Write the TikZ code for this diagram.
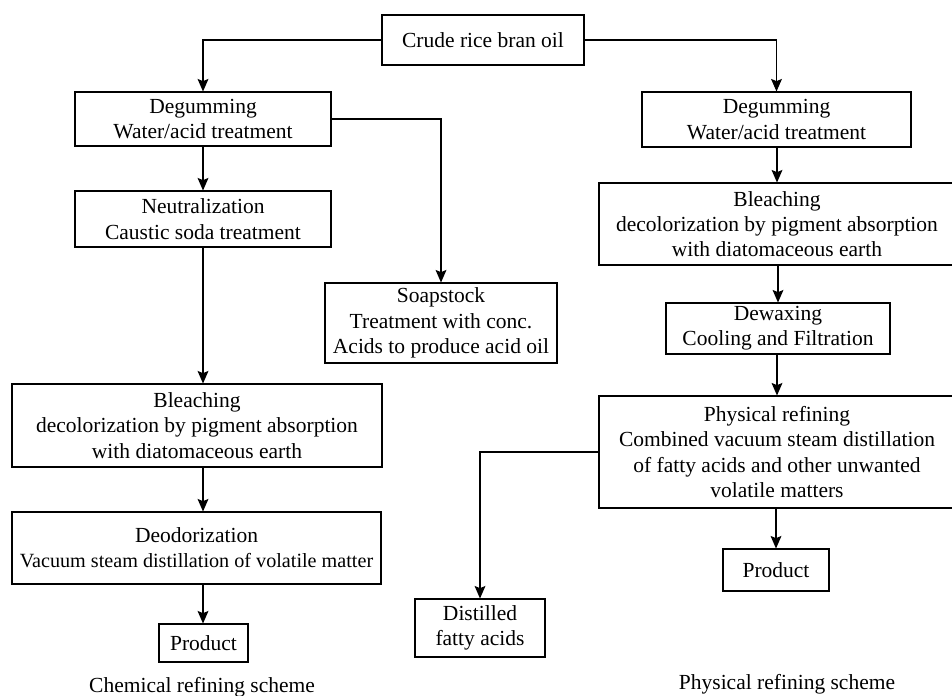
\documentclass[tikz,border=0pt]{standalone}
\usepackage{fontspec}
\setmainfont{Liberation Serif}
\usetikzlibrary{arrows.meta}

\begin{document}
\begin{tikzpicture}
[x=0.6pt, y=-0.6pt, font=\fontsize{12.9}{15.2}\selectfont, line width=0.65pt,
stage/.style={draw, align=center, inner sep=0pt},
>={Stealth[length=7.5pt, width=6.5pt, inset=1.3pt]}]

\clip (0,0) rectangle (952,695);

% chemical refining
\node[stage, minimum width=121.2pt, minimum height=30pt] (crude) at (483,40) {Crude rice bran oil};
\node[stage, minimum width=153.6pt, minimum height=32.4pt] (degL) at (203,119) {Degumming\\Water/acid treatment};
\node[stage, minimum width=153.6pt, minimum height=33.6pt] (neut) at (203,219) {Neutralization\\Caustic soda treatment};
\node[stage, minimum width=139.2pt, minimum height=48pt] (soap) at (441,323) {Soapstock\\Treatment with conc.\\Acids to produce acid oil};
\node[stage, minimum width=222pt, minimum height=49.8pt] (bleachL) at (197,425.5) {Bleaching\\decolorization by pigment absorption\\with diatomaceous earth};
\node[stage, minimum width=221.4pt, minimum height=43.2pt] (deod) at (196.5,548) {Deodorization\\{\fontsize{12.1}{15.2}\selectfont Vacuum steam distillation of volatile matter}};
\node[stage, minimum width=53.4pt, minimum height=22.8pt] (prodL) at (203.5,643) {Product};
\node (capL) at (202,687) {Chemical refining scheme};

% physical refining
\node[stage, minimum width=161.4pt, minimum height=33pt] (degR) at (776.5,119.5) {Degumming\\Water/acid treatment};
\node[stage, minimum width=213.6pt, minimum height=49.2pt] (bleachR) at (777,224) {Bleaching\\decolorization by pigment absorption\\with diatomaceous earth};
\node[stage, minimum width=134.4pt, minimum height=30.6pt] (dewax) at (778,328.5) {Dewaxing\\Cooling and Filtration};
\node[stage, minimum width=213.6pt, minimum height=67.2pt] (phys) at (777,452) {Physical refining\\Combined vacuum steam distillation\\of fatty acids and other unwanted\\volatile matters};
\node[stage, minimum width=63.6pt, minimum height=25.2pt] (prodR) at (776,570) {Product};
\node[stage, minimum width=78pt, minimum height=34.8pt] (dist) at (480,628) {Distilled\\fatty acids};
\node (capR) at (787,684) {Physical refining scheme};

\draw[->] (crude.west) -| (degL.north);
\draw[->] (crude.east) -| (degR.north);
\draw[->] (degL) -- (neut);
\draw[->] (degL.east) -| (soap.north);
\draw[->] (neut.south) -- (bleachL.north -| neut.south);
\draw[->] (bleachL.south -| neut.south) -- (deod.north -| neut.south);
\draw[->] (deod.south -| neut.south) -- (prodL.north -| neut.south);

\draw[->] (degR.south -| bleachR.north) -- (bleachR.north);
\draw[->] (bleachR.south -| dewax.north) -- (dewax.north);
\draw[->] (dewax.south -| phys.north) -- (phys.north);
\draw[->] (phys.south -| prodR.north) -- (prodR.north);
\draw[->] (phys.west) -| (dist.north);

\end{tikzpicture}
\end{document}
